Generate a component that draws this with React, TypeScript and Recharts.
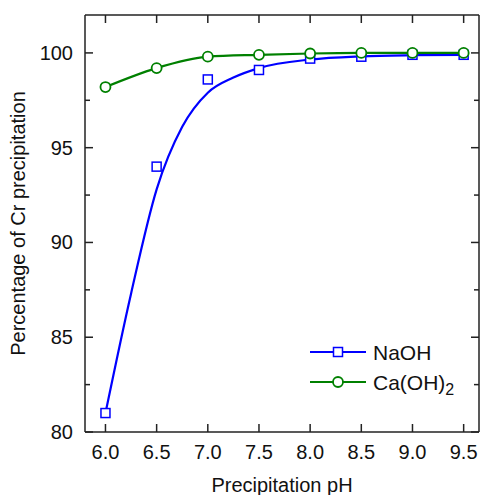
import { ComposedChart, Line, XAxis, YAxis } from 'recharts';

const phLevels = [6.0, 6.5, 7.0, 7.5, 8.0, 8.5, 9.0, 9.5];
const naohMeasured = [81.0, 94.0, 98.6, 99.1, 99.7, 99.8, 99.9, 99.9];
const caohMeasured = [98.2, 99.2, 99.8, 99.9, 99.97, 100.0, 100.0, 100.0];

// fitted NaOH curve
const naohFitPh = [6.0, 6.25, 6.5, 6.75, 7.0, 7.25, 7.5, 8.0, 8.5, 9.0, 9.5];
const naohFitValues = [81.0, 87.3, 92.8, 96.1, 97.9, 98.7, 99.2, 99.65, 99.82, 99.88, 99.9];

const xTicks = [6.0, 6.5, 7.0, 7.5, 8.0, 8.5, 9.0, 9.5];
const yTicks = [80, 82.5, 85, 87.5, 90, 92.5, 95, 97.5, 100];
const yLabelled = [80, 85, 90, 95, 100];

const BLUE = '#0000ff';
const GREEN = '#008000';
const FRAME = '#222';
const FONT = '"Liberation Sans", Arial, sans-serif';

const measured = phLevels.map((ph, i) => ({ ph, naoh: naohMeasured[i], caoh: caohMeasured[i] }));
const fit = naohFitPh.map((ph, i) => ({ ph, naoh: naohFitValues[i] }));

const XTick = (props: any) => {
  const { x, y, payload, top } = props;
  return (
    <g>
      <line x1={x} x2={x} y1={y} y2={top ? y + 8 : y - 8} stroke={FRAME} strokeWidth={1.5} />
      {!top && (
        <text x={x} y={y + 20} textAnchor="middle" dominantBaseline="central" fontSize={20} fontFamily={FONT} fill="#111">
          {Number(payload.value).toFixed(1)}
        </text>
      )}
    </g>
  );
};

const YTick = (props: any) => {
  const { x, y, payload, right } = props;
  const major = yLabelled.includes(payload.value);
  const len = major ? 8 : 5;
  return (
    <g>
      <line x1={x} x2={right ? x - len : x + len} y1={y} y2={y} stroke={FRAME} strokeWidth={1.5} />
      {!right && major && (
        <text x={x - 12} y={y} textAnchor="end" dominantBaseline="central" fontSize={20} fontFamily={FONT} fill="#111">
          {payload.value}
        </text>
      )}
    </g>
  );
};

const Square = (props: any) => {
  const { cx, cy, index } = props;
  if (cx == null || cy == null) return <g key={index} />;
  return <rect key={index} x={cx - 4.5} y={cy - 4.5} width={9} height={9} fill="#fff" stroke={BLUE} strokeWidth={1.5} />;
};

const Circle = (props: any) => {
  const { cx, cy, index } = props;
  if (cx == null || cy == null) return <g key={index} />;
  return <circle key={index} cx={cx} cy={cy} r={5} fill="#fff" stroke={GREEN} strokeWidth={1.8} />;
};

export default function App() {
  return (
    <div style={{ position: 'relative', width: 480, height: 495 }}>
      <style>{'body { margin: 0; }'}</style>
      <ComposedChart width={480} height={495} margin={{ top: 14, right: 0, bottom: 0, left: 0 }}>
        <XAxis
          dataKey="ph"
          type="number"
          domain={[5.8, 9.65]}
          ticks={xTicks}
          allowDataOverflow
          height={63}
          stroke={FRAME}
          strokeWidth={1.5}
          tickSize={0}
          tickMargin={0}
          tickLine={false}
          tick={(p: any) => <XTick {...p} />}
          label={{
            content: ({ viewBox }: any) => (
              <text x={viewBox.x + viewBox.width / 2} y={viewBox.y + 53} textAnchor="middle" dominantBaseline="central" fontSize={20} fontFamily={FONT} fill="#111">
                Precipitation pH
              </text>
            ),
          }}
        />
        <XAxis
          xAxisId="top"
          orientation="top"
          dataKey="ph"
          type="number"
          domain={[5.8, 9.65]}
          ticks={xTicks}
          allowDataOverflow
          height={1}
          stroke={FRAME}
          strokeWidth={1.5}
          tickSize={0}
          tickMargin={0}
          tickLine={false}
          tick={(p: any) => <XTick {...p} top />}
        />
        <YAxis
          type="number"
          domain={[80, 102]}
          ticks={yTicks}
          allowDataOverflow
          width={85}
          stroke={FRAME}
          strokeWidth={1.5}
          tickSize={0}
          tickMargin={0}
          tickLine={false}
          tick={(p: any) => <YTick {...p} />}
          label={{
            content: ({ viewBox }: any) => {
              const cx = viewBox.x + 18;
              const cy = viewBox.y + viewBox.height / 2;
              return (
                <text x={cx} y={cy} transform={`rotate(-90 ${cx} ${cy})`} textAnchor="middle" dominantBaseline="central" fontSize={20} fontFamily={FONT} fill="#111">
                  Percentage of Cr precipitation
                </text>
              );
            },
          }}
        />
        <YAxis
          yAxisId="right"
          orientation="right"
          type="number"
          domain={[80, 102]}
          ticks={yTicks}
          allowDataOverflow
          width={1}
          stroke={FRAME}
          strokeWidth={1.5}
          tickSize={0}
          tickMargin={0}
          tickLine={false}
          tick={(p: any) => <YTick {...p} right />}
        />
        {/* invisible series so the mirror axes (top / right) get drawn */}
        <Line xAxisId="top" yAxisId="right" data={measured} dataKey="caoh" stroke="none" dot={false} activeDot={false} isAnimationActive={false} />
        <Line data={fit} dataKey="naoh" type="monotone" stroke={BLUE} strokeWidth={2.2} dot={false} activeDot={false} isAnimationActive={false} />
        <Line data={measured} dataKey="naoh" stroke="none" dot={(p: any) => <Square {...p} />} activeDot={false} isAnimationActive={false} />
        <Line data={measured} dataKey="caoh" type="monotone" stroke={GREEN} strokeWidth={2.2} dot={(p: any) => <Circle {...p} />} activeDot={false} isAnimationActive={false} />
      </ComposedChart>
      <svg width={480} height={495} style={{ position: 'absolute', left: 0, top: 0, pointerEvents: 'none' }}>
        <g>
          <line x1={310} x2={366} y1={352} y2={352} stroke={BLUE} strokeWidth={2.2} />
          <rect x={333.5} y={347.5} width={9} height={9} fill="#fff" stroke={BLUE} strokeWidth={1.5} />
          <text x={373} y={352} dominantBaseline="central" fontSize={21} fontFamily={FONT} fill="#111">NaOH</text>
        </g>
        <g>
          <line x1={310} x2={366} y1={382} y2={382} stroke={GREEN} strokeWidth={2.2} />
          <circle cx={338} cy={382} r={5} fill="#fff" stroke={GREEN} strokeWidth={1.8} />
          <text x={373} y={382} dominantBaseline="central" fontSize={21} fontFamily={FONT} fill="#111">
            Ca(OH)<tspan fontSize={16} dy={7}>2</tspan>
          </text>
        </g>
      </svg>
    </div>
  );
}
